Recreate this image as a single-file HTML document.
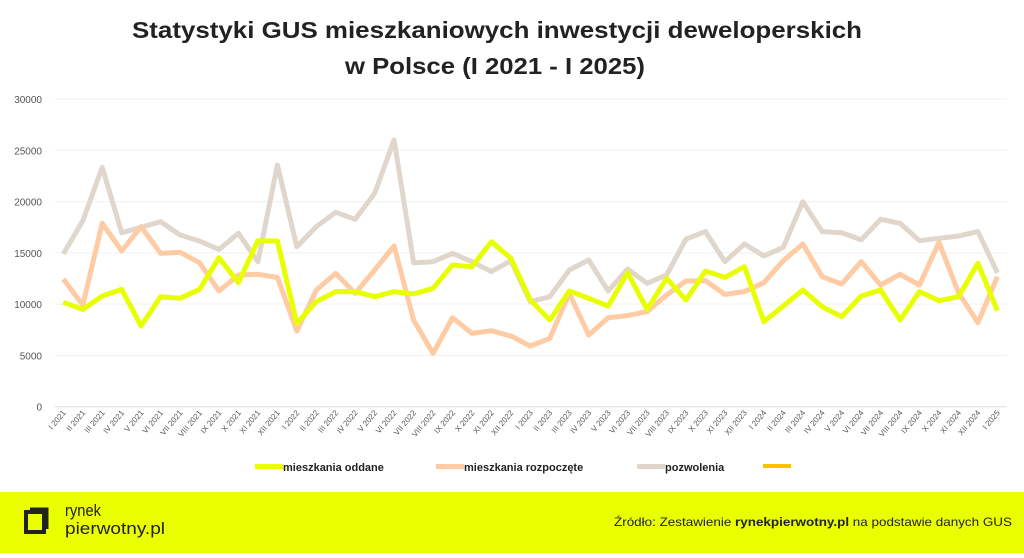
<!DOCTYPE html>
<html><head><meta charset="utf-8">
<style>
html,body{margin:0;padding:0;background:#fff;}
body{width:1024px;height:553px;overflow:hidden;position:relative;font-family:"Liberation Sans",sans-serif;}
</style></head>
<body>
<svg id="s" width="1024" height="553" viewBox="0 0 1024 553" xmlns="http://www.w3.org/2000/svg" font-family="Liberation Sans, sans-serif">
<text x="497" y="38" text-anchor="middle" font-size="23" font-weight="bold" fill="#222" textLength="730" lengthAdjust="spacingAndGlyphs">Statystyki GUS mieszkaniowych inwestycji deweloperskich</text>
<text x="495" y="74" text-anchor="middle" font-size="23" font-weight="bold" fill="#222" textLength="300" lengthAdjust="spacingAndGlyphs">w Polsce (I 2021 - I 2025)</text>
<g id="grid"></g>
<g id="lines" fill="none" stroke-width="5" stroke-linejoin="round" stroke-linecap="butt"></g>
<g id="xl" font-size="8" fill="#555"></g>
<g font-size="11" font-weight="bold" fill="#222">
<rect x="255" y="464" width="28" height="5" fill="#e8ff00"/>
<text x="283" y="471">mieszkania oddane</text>
<rect x="436" y="464" width="28" height="5" fill="#ffcba4"/>
<text x="464" y="471">mieszkania rozpoczęte</text>
<rect x="637" y="464" width="28" height="5" fill="#e0d6cc"/>
<text x="665" y="471">pozwolenia</text>
<rect x="763" y="464" width="28" height="4" fill="#ffc000"/>
</g>
<rect x="0" y="492" width="1024" height="61" fill="#eaff00"/>
<path d="M26 512 L44 512 L44 532 L26 532 Z" fill="none" stroke="#222" stroke-width="4"/>
<path d="M30 509 L47 509 L47 529" fill="none" stroke="#222" stroke-width="3"/>
<text x="65" y="516" font-size="17" fill="#222" textLength="36" lengthAdjust="spacingAndGlyphs">rynek</text>
<text x="65" y="534" font-size="17" fill="#222" textLength="100" lengthAdjust="spacingAndGlyphs">pierwotny.pl</text>
<text x="1012" y="526" text-anchor="end" font-size="12" fill="#222" textLength="398" lengthAdjust="spacingAndGlyphs">Źródło: Zestawienie <tspan font-weight="bold">rynekpierwotny.pl</tspan> na podstawie danych GUS</text>
</svg>
<script>
var g=[10180,9490,10790,11440,7870,10730,10570,11440,14530,12090,16190,16160,8130,10240,11220,11220,10730,11220,10990,11540,13820,13650,16090,14470,10400,8450,11280,10570,9820,13070,9490,12520,10400,13230,12610,13650,8290,9820,11380,9750,8780,10790,11380,8450,11220,10340,10730,13980,9360];
var o=[12450,9920,17880,15180,17560,14950,15050,14040,11280,12840,12910,12610,7380,11380,13000,11050,13330,15670,8450,5200,8680,7150,7410,6890,5920,6660,11050,6990,8680,8880,9270,10890,12260,12290,10950,11220,12090,14240,15860,12680,11960,14140,11870,12910,11870,16030,11120,8190,12680];
var p=[14890,18140,23340,16970,17490,18040,16740,16160,15340,16910,14140,23570,15600,17560,18950,18270,20810,26010,14040,14140,14950,14140,13170,14240,10240,10730,13330,14300,11280,13430,12030,12840,16350,17070,14140,15860,14690,15540,19990,17070,16970,16260,18270,17880,16190,16420,16640,17070,13070];
var NS="http://www.w3.org/2000/svg";
function X(i){return 63.3+i*19.46;}
function Y(v){return 406.7-v*0.010256;}
var grid=document.getElementById('grid');
for(var k=0;k<=6;k++){var v=k*5000,y=Y(v);
 if(k>0){var l=document.createElementNS(NS,'line');l.setAttribute('x1',55);l.setAttribute('x2',1007);l.setAttribute('y1',y);l.setAttribute('y2',y);l.setAttribute('stroke','#f0f0f0');l.setAttribute('stroke-width',1);grid.appendChild(l);}
 var t=document.createElementNS(NS,'text');t.setAttribute('x',42);t.setAttribute('y',y+4);t.setAttribute('text-anchor','end');t.setAttribute('font-size','10');t.setAttribute('fill','#555');t.textContent=v;grid.appendChild(t);}
var b=document.createElementNS(NS,'line');b.setAttribute('x1',55);b.setAttribute('x2',1007);b.setAttribute('y1',406.7);b.setAttribute('y2',406.7);b.setAttribute('stroke','#ddd');grid.appendChild(b);
var lines=document.getElementById('lines');
[[p,'#e0d6cc'],[o,'#ffcba4'],[g,'#e8ff00']].forEach(function(s){
 var pts=s[0].map(function(v,i){return X(i).toFixed(1)+','+Y(v).toFixed(1);}).join(' ');
 var pl=document.createElementNS(NS,'polyline');pl.setAttribute('points',pts);pl.setAttribute('stroke',s[1]);lines.appendChild(pl);});
var R=['I','II','III','IV','V','VI','VII','VIII','IX','X','XI','XII'];
var xl=document.getElementById('xl');
for(var i=0;i<49;i++){var yr=2021+Math.floor(i/12),m=R[i%12];
 var t=document.createElementNS(NS,'text');var x=X(i)+3,y=413;
 t.setAttribute('x',x);t.setAttribute('y',y);t.setAttribute('text-anchor','end');
 t.setAttribute('transform','rotate(-50 '+x+' '+y+')');t.textContent=m+' '+yr;xl.appendChild(t);}
</script>
</body></html>
